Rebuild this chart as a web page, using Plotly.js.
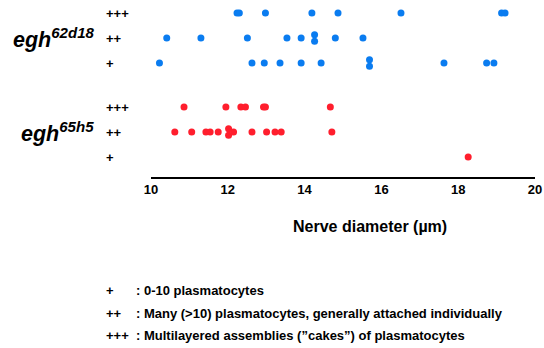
<!DOCTYPE html>
<html>
<head>
<meta charset="utf-8">
<script src="https://cdn.plot.ly/plotly-3.0.1.min.js"></script>
<style>html,body{margin:0;padding:0;background:#fff;}#chart{width:544px;height:348px;}</style>
</head>
<body>
<div id="chart"></div>
<script>
// ---- data ----
const rowLabels = ["+", "++", "+++"];
const groupNames = ["egh<sup>62d18</sup>", "egh<sup>65h5</sup>"];

const blueRow = ["+++","+++","+++","+++","+++","+++","+++","+++",
  "++","++","++","++","++","++","++","++","++",
  "+","+","+","+","+","+","+","+","+","+","+"];
const blueX = [12.24,12.30,12.98,14.19,14.87,16.51,19.13,19.22,
  10.41,11.30,12.51,13.54,13.91,14.26,14.26,14.80,15.52,
  10.22,12.63,12.95,13.36,13.91,14.43,15.69,15.69,17.63,18.74,18.93];

const redRow = ["+++","+++","+++","+++","+++","+++","+++",
  "++","++","++","++","++","++","++","++","++","++","++","++","++",
  "+"];
const redX = [10.86,11.95,12.34,12.46,12.93,12.98,14.67,
  10.62,11.06,11.43,11.54,11.75,12.02,12.02,12.15,12.63,13.01,13.23,13.39,14.71,
  18.26];

const legendKeys = ["+", "++", "+++"];
const legendTexts = [": 0-10 plasmatocytes",
  ": Many (>10) plasmatocytes, generally attached individually",
  ": Multilayered assemblies (\u201dcakes\u201d) of plasmatocytes"];

const xTicks = [10, 12, 14, 16, 18, 20];
const xTitle = "Nerve diameter (\u00b5m)";

// ---- build ----
const FONT = "Liberation Sans, Arial, Helvetica, sans-serif";
const groupBase = [3.76, 0]; // row-block offsets for egh62d18, egh65h5
const JIT = 0.13;

function yFor(rows, xs, base) {
  const seen = {};
  const counts = {};
  rows.forEach((r, i) => { const k = r + "|" + xs[i]; counts[k] = (counts[k] || 0) + 1; });
  return rows.map((r, i) => {
    const k = r + "|" + xs[i];
    let y = base + rowLabels.indexOf(r);
    if (counts[k] > 1) {
      seen[k] = (seen[k] || 0);
      y += (seen[k] === 0 ? JIT : -JIT);
      seen[k]++;
    }
    return y;
  });
}

const traces = [
  {x: blueX, y: yFor(blueRow, blueX, groupBase[0]), type: "scatter", mode: "markers",
   marker: {color: "#0a7cf0", size: 7}, hoverinfo: "x", showlegend: false},
  {x: redX, y: yFor(redRow, redX, groupBase[1]), type: "scatter", mode: "markers",
   marker: {color: "#ff1e2d", size: 7}, hoverinfo: "x", showlegend: false}
];

const L = 151, T = 2, W = 384, H = 175;
const px = v => (v - L) / W;
const py = v => (T + H - v) / H;

const ann = [];
// row labels
groupBase.forEach(b => {
  rowLabels.forEach((r, i) => {
    ann.push({x: px(104), xref: "paper", y: b + i, yref: "y", text: r, showarrow: false,
      xanchor: "left", yanchor: "middle", font: {family: FONT, size: 13, weight: "bold", color: "#000"}});
  });
});
// group labels
const groupLabelX = [11, 19];
groupNames.forEach((g, i) => {
  ann.push({x: px(groupLabelX[i]), xref: "paper", y: groupBase[i] + 1, yref: "y",
    text: "<b><i>" + g + "</i></b>", showarrow: false, xanchor: "left", yanchor: "middle",
    font: {family: FONT, size: 21.5, color: "#000"}});
});
// x title
ann.push({x: px(370), xref: "paper", y: py(227), yref: "paper", text: xTitle, showarrow: false,
  xanchor: "center", yanchor: "middle", font: {family: FONT, size: 16, weight: "bold", color: "#000"}});
// legend
const legY = [290, 313, 335];
legendKeys.forEach((k, i) => {
  ann.push({x: px(104), xref: "paper", y: py(legY[i]), yref: "paper", text: k, showarrow: false,
    xanchor: "left", yanchor: "middle", font: {family: FONT, size: 13, weight: "bold", color: "#000"}});
  ann.push({x: px(134), xref: "paper", y: py(legY[i]), yref: "paper", text: legendTexts[i], showarrow: false,
    xanchor: "left", yanchor: "middle", font: {family: FONT, size: 13, weight: "bold", color: "#000"}});
});

const layout = {
  width: 544, height: 348,
  margin: {l: L, r: 544 - L - W, t: T, b: 348 - T - H, pad: 0},
  paper_bgcolor: "#fff", plot_bgcolor: "#fff",
  xaxis: {range: [10, 20], tickvals: xTicks, ticktext: xTicks.map(String), showgrid: false, zeroline: false,
    showline: true, linecolor: "#000", linewidth: 1.5, ticks: "",
    tickfont: {family: FONT, size: 13, weight: "bold", color: "#000"}},
  yaxis: {range: [-0.8, 6.2], showgrid: false, zeroline: false, showline: false, showticklabels: false, ticks: ""},
  annotations: ann,
  showlegend: false
};

Plotly.newPlot("chart", traces, layout, {displayModeBar: false, staticPlot: true});
</script>
</body>
</html>
